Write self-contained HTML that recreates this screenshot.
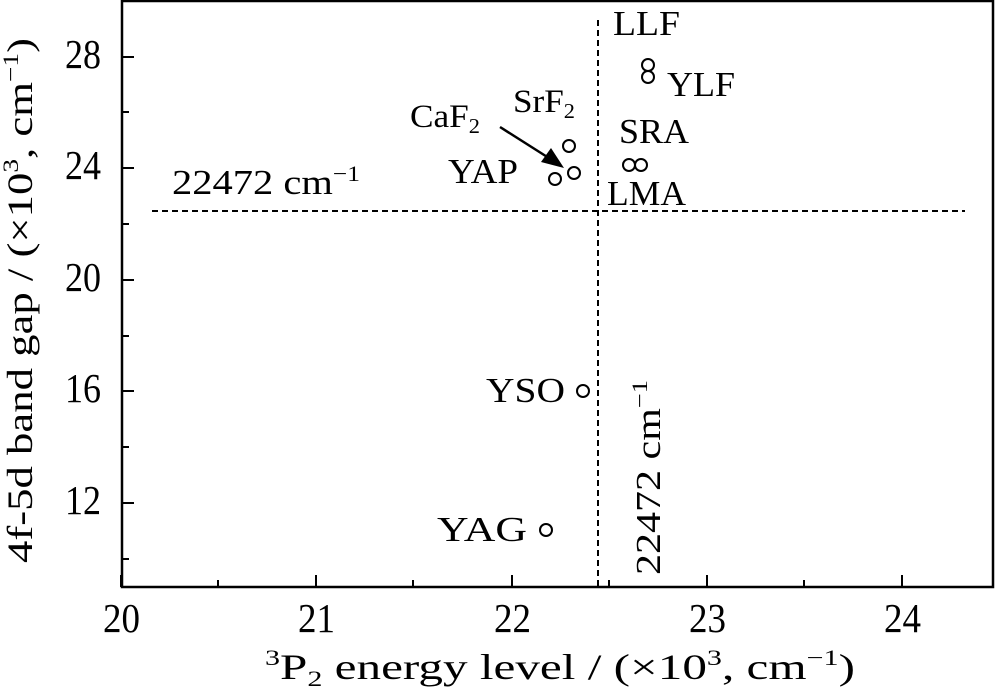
<!DOCTYPE html>
<html><head><style>html,body{margin:0;padding:0;background:#fff}</style></head><body>
<svg width="1000" height="692" viewBox="0 0 1000 692" xmlns="http://www.w3.org/2000/svg" font-family="Liberation Serif, serif" fill="#000">
<rect x="122" y="1" width="871" height="586" fill="none" stroke="#000" stroke-width="2.5"/>
<g stroke="#000" stroke-width="2">
<line x1="121" y1="587" x2="121" y2="575"/><line x1="218" y1="587" x2="218" y2="580"/>
<line x1="316" y1="587" x2="316" y2="575"/><line x1="413" y1="587" x2="413" y2="580"/>
<line x1="512" y1="587" x2="512" y2="575"/><line x1="609" y1="587" x2="609" y2="580"/>
<line x1="707" y1="587" x2="707" y2="575"/><line x1="804" y1="587" x2="804" y2="580"/>
<line x1="902" y1="587" x2="902" y2="575"/>
<line x1="122" y1="57" x2="134" y2="57"/><line x1="122" y1="112" x2="129" y2="112"/>
<line x1="122" y1="168" x2="134" y2="168"/><line x1="122" y1="224" x2="129" y2="224"/>
<line x1="122" y1="280" x2="134" y2="280"/><line x1="122" y1="336" x2="129" y2="336"/>
<line x1="122" y1="391" x2="134" y2="391"/><line x1="122" y1="447" x2="129" y2="447"/>
<line x1="122" y1="503" x2="134" y2="503"/><line x1="122" y1="559" x2="129" y2="559"/>
</g>
<g font-size="41">
<text x="65" y="68" textLength="36" lengthAdjust="spacingAndGlyphs">28</text>
<text x="65" y="179" textLength="36" lengthAdjust="spacingAndGlyphs">24</text>
<text x="65" y="291" textLength="36" lengthAdjust="spacingAndGlyphs">20</text>
<text x="65" y="402" textLength="36" lengthAdjust="spacingAndGlyphs">16</text>
<text x="65" y="514" textLength="36" lengthAdjust="spacingAndGlyphs">12</text>
</g>
<g font-size="41">
<text x="103" y="632" textLength="37" lengthAdjust="spacingAndGlyphs">20</text>
<text x="298" y="632" textLength="37" lengthAdjust="spacingAndGlyphs">21</text>
<text x="494" y="632" textLength="37" lengthAdjust="spacingAndGlyphs">22</text>
<text x="689" y="632" textLength="37" lengthAdjust="spacingAndGlyphs">23</text>
<text x="884" y="632" textLength="37" lengthAdjust="spacingAndGlyphs">24</text>
</g>
<text x="265" y="679" font-size="36" textLength="590" lengthAdjust="spacingAndGlyphs"><tspan font-size="22" dy="-14">3</tspan><tspan dy="14">P</tspan><tspan font-size="22" dy="7">2</tspan><tspan dy="-7"> energy level / (×10</tspan><tspan font-size="22" dy="-14">3</tspan><tspan dy="14">, cm</tspan><tspan font-size="22" dy="-14">−1</tspan><tspan dy="14">)</tspan></text>
<text transform="translate(32,563) rotate(-90)" font-size="36" textLength="525" lengthAdjust="spacingAndGlyphs">4f-5d band gap / (×10<tspan font-size="22" dy="-14">3</tspan><tspan dy="14">, cm</tspan><tspan font-size="22" dy="-14">−1</tspan><tspan dy="14">)</tspan></text>
<g stroke="#000" stroke-width="2" stroke-dasharray="6,4">
<line x1="598" y1="20" x2="598" y2="587"/>
<line x1="152" y1="211" x2="965" y2="211"/>
</g>
<g fill="none" stroke="#000" stroke-width="2">
<circle cx="648" cy="65" r="6"/><circle cx="648" cy="77" r="6"/>
<circle cx="629" cy="165" r="6"/><circle cx="641" cy="165" r="6"/>
<circle cx="569" cy="146" r="6"/><circle cx="555" cy="179" r="6"/><circle cx="574" cy="173" r="6"/>
<circle cx="583" cy="391" r="6"/><circle cx="546" cy="530" r="6"/>
</g>
<line x1="500" y1="127" x2="552" y2="160" stroke="#000" stroke-width="2.5"/>
<polygon points="564,168 541,162 551,148"/>
<g font-size="35">
<text x="613" y="35" textLength="67" lengthAdjust="spacingAndGlyphs">LLF</text>
<text x="667" y="96" textLength="68" lengthAdjust="spacingAndGlyphs">YLF</text>
<text x="619" y="143" textLength="70" lengthAdjust="spacingAndGlyphs">SRA</text>
<text x="607" y="205" textLength="79" lengthAdjust="spacingAndGlyphs">LMA</text>
<text x="448" y="183" textLength="70" lengthAdjust="spacingAndGlyphs">YAP</text>
<text x="410" y="127" font-size="33" textLength="70" lengthAdjust="spacingAndGlyphs">CaF<tspan font-size="21" dy="6">2</tspan></text>
<text x="513" y="112" font-size="33" textLength="62" lengthAdjust="spacingAndGlyphs">SrF<tspan font-size="21" dy="6">2</tspan></text>
<text x="172" y="194" textLength="188" lengthAdjust="spacingAndGlyphs">22472 cm<tspan font-size="22" dy="-13">−1</tspan></text>
<text x="486" y="402" textLength="79" lengthAdjust="spacingAndGlyphs">YSO</text>
<text x="437" y="541" textLength="90" lengthAdjust="spacingAndGlyphs">YAG</text>
<text transform="translate(660,575) rotate(-90)" textLength="195" lengthAdjust="spacingAndGlyphs">22472 cm<tspan font-size="22" dy="-13">−1</tspan></text>
</g>
</svg>
</body></html>
